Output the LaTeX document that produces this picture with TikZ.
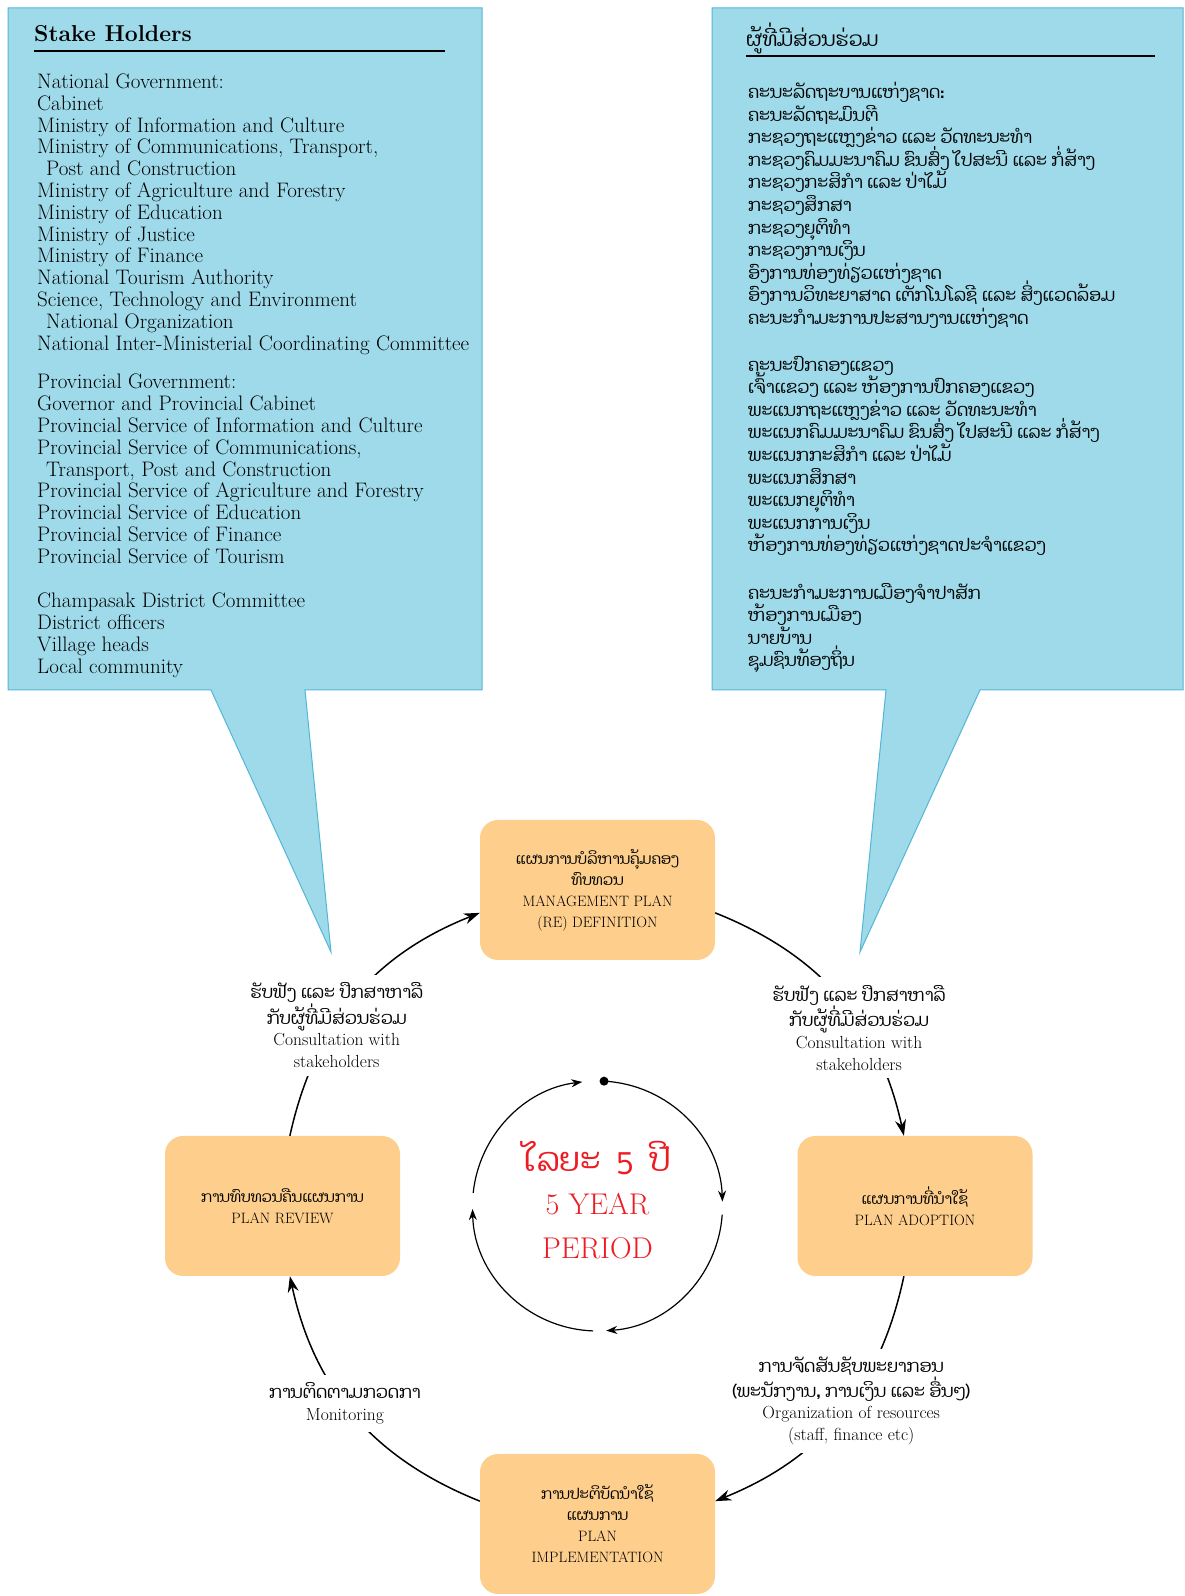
\documentclass[tikz,border=0pt]{standalone}
\usepackage{fontspec}
\usepackage{xcolor}
\usepackage{tikz}
\usetikzlibrary{arrows.meta}
\newfontfamily\laofont[Script=Lao]{Dhyana}
\newcommand{\lao}[1]{{\laofont #1}}
\newcommand{\noskip}{\setlength{\lineskiplimit}{-100pt}}
\definecolor{skyb}{RGB}{158,218,234}
\definecolor{skyline}{RGB}{84,182,214}
\definecolor{peach}{RGB}{253,206,140}
\definecolor{redtxt}{RGB}{237,28,36}
\tikzset{
  bubble/.style={fill=skyb,draw=skyline,line width=1pt},
  stage/.style={fill=peach,rounded corners=18pt,minimum width=235pt,minimum height=140pt,align=center,font=\fontsize{15}{21}\selectfont},
  lbl/.style={fill=white,inner sep=8pt,align=center,font=\fontsize{17.5}{21.7}\selectfont},
  flow/.style={line width=1.5pt,-{Stealth[length=16pt,width=11pt]}},
  ring/.style={line width=1.2pt,-{Stealth[length=11pt,width=8pt]}},
  entxt/.style={anchor=north west,inner sep=0pt,align=left,font=\fontsize{21}{21.8}\selectfont},
  laotxt/.style={anchor=north west,inner sep=0pt,align=left,font=\laofont\fontsize{17.5}{22.6}\selectfont\noskip}
}

\begin{document}
\begin{tikzpicture}[x=1pt,y=1pt]
\useasboundingbox (0,0) rectangle (1184,1596);
\draw[bubble] (8,1588) -- (482,1588) -- (482,906) -- (305,906) -- (331,644) -- (211,906) -- (8,906) -- cycle;
\draw[bubble] (712,1588) -- (1183,1588) -- (1183,906) -- (980,906) -- (860,644) -- (886,906) -- (712,906) -- cycle;

\node[anchor=base west,inner sep=0pt,font=\bfseries\fontsize{23}{23}\selectfont] (sh) at (34,1554) {Stake Holders};
\draw[line width=1.2pt] (34,1545) -- (445,1545);
\node[entxt] (natgov) at (37,1522.3) {National Government:\\Cabinet\\Ministry of Information and Culture\\Ministry of Communications, Transport,\\\hspace*{9pt}Post and Construction\\Ministry of Agriculture and Forestry\\Ministry of Education\\Ministry of Justice\\Ministry of Finance\\National Tourism Authority\\Science, Technology and Environment\\\hspace*{9pt}National Organization\\National Inter-Ministerial Coordinating Committee};
\node[entxt] (provgov) at (37,1222) {Provincial Government:\\Governor and Provincial Cabinet\\Provincial Service of Information and Culture\\Provincial Service of Communications,\\\hspace*{9pt}Transport, Post and Construction\\Provincial Service of Agriculture and Forestry\\Provincial Service of Education\\Provincial Service of Finance\\Provincial Service of Tourism};
\node[entxt] (distgov) at (37,1003.1) {Champasak District Committee\\District officers\\Village heads\\Local community};

\node[anchor=base west,inner sep=0pt,font=\laofont\fontsize{20}{20}\selectfont] (shlo) at (746,1549) {ຜູ້ທີ່ມີສ່ວນຮ່ວມ};
\draw[line width=1.2pt] (746,1540) -- (1155,1540);
\node[laotxt] (natgovlo) at (748,1514) {ຄະນະລັດຖະບານແຫ່ງຊາດ:\\ຄະນະລັດຖະມົນຕີ\\ກະຊວງຖະແຫຼງຂ່າວ ແລະ ວັດທະນະທຳ\\ກະຊວງຄົມມະນາຄົມ ຂົນສົ່ງ ໄປສະນີ ແລະ ກໍ່ສ້າງ\\ກະຊວງກະສິກຳ ແລະ ປ່າໄມ້\\ກະຊວງສຶກສາ\\ກະຊວງຍຸຕິທຳ\\ກະຊວງການເງິນ\\ອົງການທ່ອງທ່ຽວແຫ່ງຊາດ\\ອົງການວິທະຍາສາດ ເຕັກໂນໂລຊີ ແລະ ສິ່ງແວດລ້ອມ\\ຄະນະກຳມະການປະສານງານແຫ່ງຊາດ};
\node[laotxt] (provgovlo) at (748,1240.2) {ຄະນະປົກຄອງແຂວງ\\ເຈົ້າແຂວງ ແລະ ຫ້ອງການປົກຄອງແຂວງ\\ພະແນກຖະແຫຼງຂ່າວ ແລະ ວັດທະນະທຳ\\ພະແນກຄົມມະນາຄົມ ຂົນສົ່ງ ໄປສະນີ ແລະ ກໍ່ສ້າງ\\ພະແນກກະສິກຳ ແລະ ປ່າໄມ້\\ພະແນກສຶກສາ\\ພະແນກຍຸຕິທຳ\\ພະແນກການເງິນ\\ຫ້ອງການທ່ອງທ່ຽວແຫ່ງຊາດປະຈຳແຂວງ};
\node[laotxt] (distgovlo) at (748,1013.2) {ຄະນະກຳມະການເມືອງຈຳປາສັກ\\ຫ້ອງການເມືອງ\\ນາຍບ້ານ\\ຊຸມຊົນທ້ອງຖິ່ນ};

\node[stage] (mgmt) at (597.5,706) {\lao{ແຜນການບໍລິຫານຄຸ້ມຄອງ}\\\lao{ທົບທວນ}\\MANAGEMENT PLAN\\(RE) DEFINITION};
\node[stage] (adopt) at (915,390) {\lao{ແຜນການທີ່ນຳໃຊ້}\\PLAN ADOPTION};
\node[stage] (review) at (282.5,390) {\lao{ການທົບທວນຄືນແຜນການ}\\PLAN REVIEW};
\node[stage] (impl) at (597.5,72) {\lao{ການປະຕິບັດນຳໃຊ້}\\\lao{ແຜນການ}\\PLAN\\IMPLEMENTATION};

\draw[flow] (review.84) to[bend left=28] node[lbl,pos=0.4,yshift=-4pt] (consl) {\lao{ຮັບຟັງ ແລະ ປຶກສາຫາລື}\\\lao{ກັບຜູ້ທີ່ມີສ່ວນຮ່ວມ}\\Consultation with\\stakeholders} (mgmt.191);
\draw[flow] (mgmt.349) to[bend left=28] node[lbl,pos=0.61,yshift=-4pt] (consr) {\lao{ຮັບຟັງ ແລະ ປຶກສາຫາລື}\\\lao{ກັບຜູ້ທີ່ມີສ່ວນຮ່ວມ}\\Consultation with\\stakeholders} (adopt.99);
\draw[flow] (adopt.261) to[bend left=28] node[lbl,pos=0.44] (orgres) {\lao{ການຈັດສັນຊັບພະຍາກອນ}\\\lao{(ພະນັກງານ, ການເງິນ ແລະ ອື່ນໆ)}\\Organization of resources\\(staff, finance etc)} (impl.11);
\draw[flow] (impl.169) to[bend left=28] node[lbl,pos=0.55] (monit) {\lao{ການຕິດຕາມກວດກາ}\\Monitoring} (review.276);

\coordinate (cen) at (597.5,390);
\fill (cen) ++(87:125) circle (4.5pt);
\draw[ring] (cen) ++(87:125) arc[start angle=87,end angle=2,radius=125pt];
\draw[ring] (cen) ++(-4:125) arc[start angle=-4,end angle=-86,radius=125pt];
\draw[ring] (cen) ++(-92:125) arc[start angle=-92,end angle=-178.6,radius=125pt];
\draw[ring] (cen) ++(174:125) arc[start angle=174,end angle=97,radius=125pt];
\node[align=center,text=redtxt,font=\fontsize{30}{43.3}\selectfont] (period) at (597.5,396) {\lao{\fontsize{33}{43.3}\selectfont ໄລຍະ\ \ 5\ \ ປີ}\\5 YEAR\\PERIOD};
\end{tikzpicture}
\end{document}
